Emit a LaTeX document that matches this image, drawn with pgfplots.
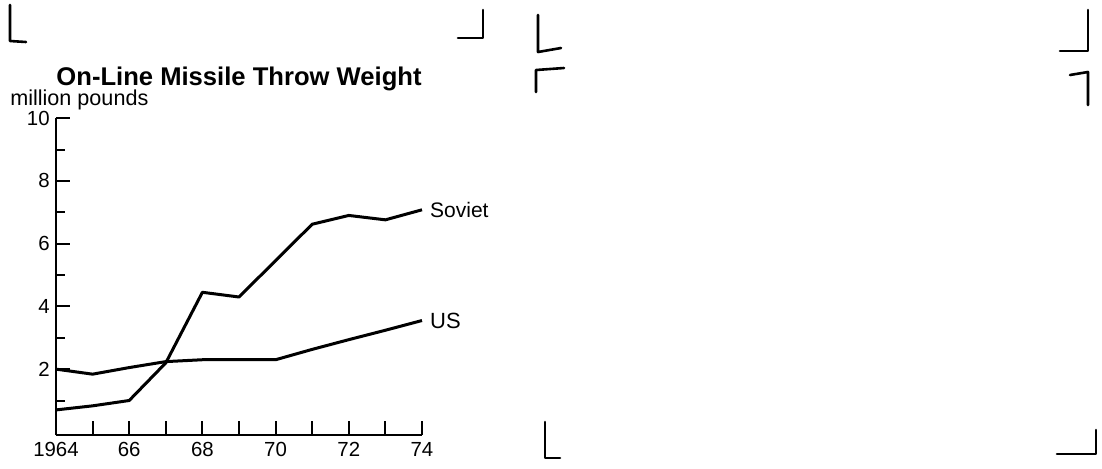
\documentclass[border=0pt]{standalone}
\usepackage{fontspec}
\setmainfont{Liberation Sans}
\usepackage{pgfplots}
\pgfplotsset{compat=1.18}

\begin{document}
\begin{tikzpicture}
% page frame in reference pixels (1 px = 0.5 pt, y runs downwards)
\begin{scope}[x=0.5pt,y=-0.5pt,line width=1.3pt,line cap=round,line join=round]
  \path (0,0) rectangle (1102,468);
  % crop marks of the scanned page
  \draw (10,5) -- (10,41) -- (26,42);
  \draw (483,10) -- (483,38) -- (458,38);
  \draw (538,15) -- (538,52) -- (561,48);
  \draw (536,92) -- (536,70) -- (564,68);
  \draw (1088,10) -- (1088,51) -- (1060,51);
  \draw (1070,75) -- (1088,72) -- (1088,105);
  \draw (545,422) -- (545,458) -- (560,458);
  \draw (1096,430) -- (1096,454) -- (1057,454);
  % titles
  \node[font=\bfseries\fontsize{12.8}{14}\selectfont] at (239,79) {On-Line Missile Throw Weight};
  \node[anchor=west, inner sep=0pt, font=\fontsize{10.8}{12}\selectfont] at (9,100) {million pounds};
\end{scope}

\begin{axis}[
    at={(28pt,-217.5pt)},
    anchor=south west,
    scale only axis,
    width=183pt,
    height=158.4pt,
    xmin=1964, xmax=1974,
    ymin=-0.1, ymax=10,
    axis x line=bottom,
    axis y line=left,
    axis line style={-, line width=1pt},
    xtick={1964,...,1974},
    xticklabels={1964,,66,,68,,70,,72,,74},
    ytick={2,4,6,8,10},
    minor ytick={1,3,5,7,9},
    tick align=inside,
    major tick length=7pt,
    minor tick length=4.5pt,
    tick style={black, line width=1pt},
    /pgf/number format/assume math mode=true,
    tick label style={font=\fontsize{10.2}{11}\selectfont},
    yticklabel style={xshift=-2pt, inner sep=1pt},
    clip=false,
]

% Soviet
\addplot[black, line width=1.5pt, line join=round, mark=none] coordinates {
    (1964, 0.70)
    (1965, 0.83)
    (1966, 1.00)
    (1967, 2.20)
    (1968, 4.45)
    (1969, 4.30)
    (1970, 5.46)
    (1971, 6.62)
    (1972, 6.90)
    (1973, 6.76)
    (1974, 7.08)
} node[pos=1, anchor=west, font=\fontsize{10.5}{12}\selectfont] {Soviet};

% US
\addplot[black, line width=1.5pt, line join=round, mark=none] coordinates {
    (1964, 2.00)
    (1965, 1.84)
    (1966, 2.05)
    (1967, 2.24)
    (1968, 2.30)
    (1969, 2.30)
    (1970, 2.30)
    (1971, 2.63)
    (1972, 2.94)
    (1973, 3.24)
    (1974, 3.55)
} node[pos=1, anchor=west, font=\fontsize{11}{12}\selectfont] {US};

\end{axis}
\end{tikzpicture}
\end{document}
